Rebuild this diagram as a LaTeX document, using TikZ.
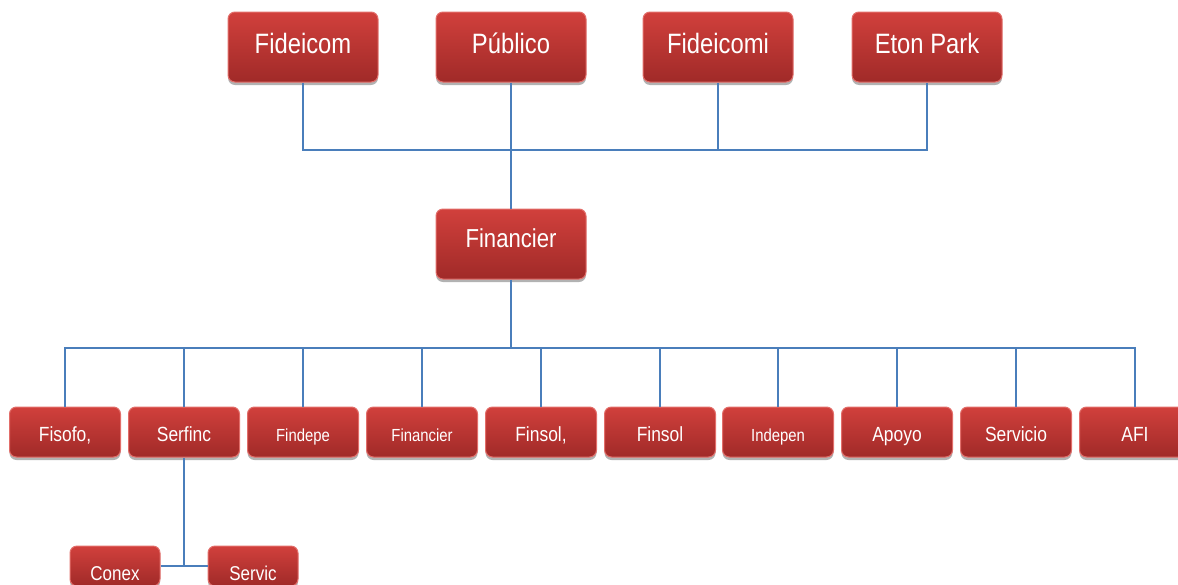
\documentclass[tikz,border=0pt]{standalone}
\usepackage{fontspec}
\setmainfont[FakeStretch=0.85]{Liberation Sans}
\usetikzlibrary{shadows}
\definecolor{boxtop}{RGB}{209,64,60}
\definecolor{boxbot}{RGB}{160,42,40}
\definecolor{boxedge}{RGB}{226,110,106}
\definecolor{linkblue}{RGB}{74,126,187}
\tikzset{
  orgbox/.style={rounded corners=7pt, top color=boxtop, bottom color=boxbot,
    draw=boxedge, line width=1pt, text=white, inner sep=0pt, align=center,
    drop shadow={shadow xshift=0pt, shadow yshift=-3pt, opacity=0.3, fill=black}},
  topbox/.style={orgbox, minimum width=150pt, minimum height=70pt,
    font=\fontsize{28}{30}\selectfont, text height=20pt, text depth=8pt},
  midbox/.style={orgbox, minimum width=150pt, minimum height=70pt,
    font=\fontsize{26}{28}\selectfont, text height=19pt, text depth=13pt},
  rowbox/.style={orgbox, minimum width=111pt, minimum height=50pt,
    font=\fontsize{20.5}{22}\selectfont, text height=18pt, text depth=0pt},
  smallrow/.style={rowbox, font=\fontsize{17.5}{19}\selectfont},
  subbox/.style={orgbox, minimum width=90pt, minimum height=40pt,
    font=\fontsize{20}{22}\selectfont, text height=28pt, text depth=0pt},
  link/.style={draw=linkblue, line width=1.6pt}
}
\begin{document}
\begin{tikzpicture}[x=1pt, y=-1pt]
\useasboundingbox (0,0) rectangle (1178,584);
% top row
\node[topbox] (t1) at (303,47) {Fideicom};
\node[topbox] (t2) at (511,47) {Público};
\node[topbox] (t3) at (718,47) {Fideicomi};
\node[topbox] (t4) at (927,47) {Eton Park};
% middle
\node[midbox] (fin) at (511,244) {Financier};
% bottom row
\node[rowbox]   (b1)  at (65,432)   {Fisofo,};
\node[rowbox]   (b2)  at (184,432)  {Serfinc};
\node[smallrow] (b3)  at (303,432)  {Findepe};
\node[smallrow] (b4)  at (422,432)  {Financier};
\node[rowbox]   (b5)  at (541,432)  {Finsol,};
\node[rowbox]   (b6)  at (660,432)  {Finsol};
\node[smallrow] (b7)  at (778,432)  {Indepen};
\node[rowbox]   (b8)  at (897,432)  {Apoyo};
\node[rowbox]   (b9)  at (1016,432) {Servicio};
\node[rowbox]   (b10) at (1135,432) {AFI};
% sub row
\node[subbox] (c1) at (115,566) {Conex};
\node[subbox] (c2) at (253,566) {Servic};
% junctions
\coordinate (topbar) at (511,150);
\coordinate (midbar) at (511,348);
\coordinate (subj) at (184,566);
% connectors
\draw[link] (t1.south) |- (topbar) -| (t4.south);
\draw[link] (t3.south) -- (t3.south |- topbar);
\draw[link] (t2.south) -- (fin.north);
\draw[link] (fin.south) -- (midbar);
\draw[link] (b1.north) |- (midbar) -| (b10.north);
\foreach \b in {b2,b3,b4,b5,b6,b7,b8,b9}
  \draw[link] (\b.north) -- (\b.north |- midbar);
\draw[link] (b2.south) -- (subj);
\draw[link] (c1.east) -- (c2.west);
\end{tikzpicture}
\end{document}
